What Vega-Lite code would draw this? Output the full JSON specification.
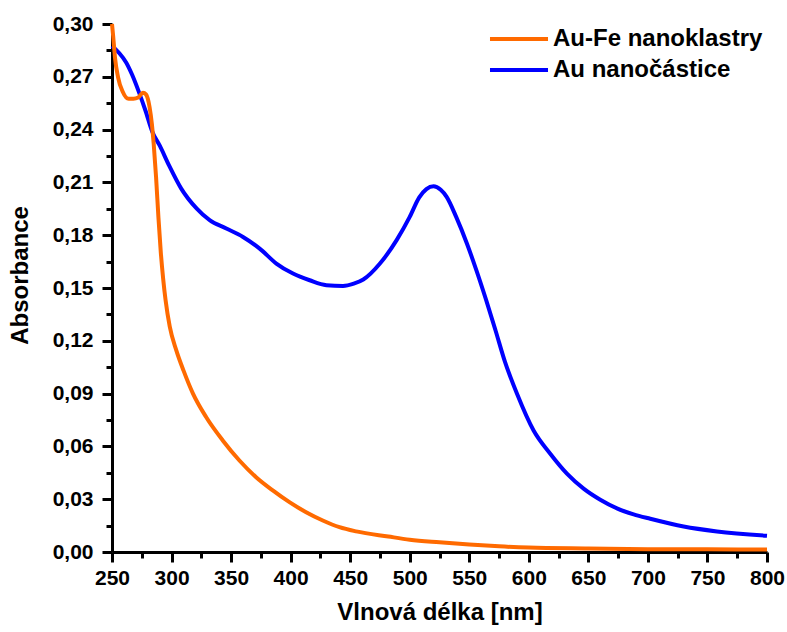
{
  "$schema": "https://vega.github.io/schema/vega-lite/v6.json",
  "autosize": "none",
  "width": 655,
  "height": 528,
  "padding": {"left": 112, "top": 24, "right": 20, "bottom": 80},
  "background": "white",
  "config": {
    "view": {"stroke": null},
    "font": "Liberation Sans",
    "axis": {
      "grid": false,
      "ticks": true,
      "domainColor": "black",
      "domainWidth": 3,
      "tickColor": "black",
      "tickWidth": 3,
      "labelFont": "Liberation Sans",
      "labelFontWeight": "bold",
      "labelFontSize": 21,
      "labelColor": "black",
      "labelFlush": false,
      "labelOverlap": false,
      "titleFont": "Liberation Sans",
      "titleFontWeight": "bold",
      "titleFontSize": 24,
      "titleColor": "black"
    }
  },
  "data": {
    "values": [
      {"wl": 250, "A": 0.2875, "s": "Au nanočástice"},
      {"wl": 256, "A": 0.2835, "s": "Au nanočástice"},
      {"wl": 262, "A": 0.278, "s": "Au nanočástice"},
      {"wl": 267, "A": 0.271, "s": "Au nanočástice"},
      {"wl": 273, "A": 0.2606, "s": "Au nanočástice"},
      {"wl": 278, "A": 0.251, "s": "Au nanočástice"},
      {"wl": 284, "A": 0.2385, "s": "Au nanočástice"},
      {"wl": 290, "A": 0.231, "s": "Au nanočástice"},
      {"wl": 298, "A": 0.2195, "s": "Au nanočástice"},
      {"wl": 308, "A": 0.2066, "s": "Au nanočástice"},
      {"wl": 321, "A": 0.1952, "s": "Au nanočástice"},
      {"wl": 332, "A": 0.1885, "s": "Au nanočástice"},
      {"wl": 346, "A": 0.1838, "s": "Au nanočástice"},
      {"wl": 360, "A": 0.179, "s": "Au nanočástice"},
      {"wl": 374, "A": 0.1724, "s": "Au nanočástice"},
      {"wl": 388, "A": 0.1639, "s": "Au nanočástice"},
      {"wl": 402, "A": 0.1582, "s": "Au nanočástice"},
      {"wl": 416, "A": 0.1544, "s": "Au nanočástice"},
      {"wl": 430, "A": 0.1516, "s": "Au nanočástice"},
      {"wl": 444, "A": 0.1512, "s": "Au nanočástice"},
      {"wl": 453, "A": 0.1525, "s": "Au nanočástice"},
      {"wl": 461, "A": 0.1548, "s": "Au nanočástice"},
      {"wl": 475, "A": 0.1639, "s": "Au nanočástice"},
      {"wl": 489, "A": 0.1772, "s": "Au nanočástice"},
      {"wl": 500, "A": 0.1904, "s": "Au nanočástice"},
      {"wl": 508, "A": 0.2015, "s": "Au nanočástice"},
      {"wl": 514, "A": 0.2062, "s": "Au nanočástice"},
      {"wl": 520, "A": 0.2078, "s": "Au nanočástice"},
      {"wl": 526, "A": 0.2058, "s": "Au nanočástice"},
      {"wl": 531, "A": 0.2018, "s": "Au nanočástice"},
      {"wl": 539, "A": 0.1904, "s": "Au nanočástice"},
      {"wl": 548, "A": 0.1753, "s": "Au nanočástice"},
      {"wl": 556, "A": 0.16, "s": "Au nanočástice"},
      {"wl": 564, "A": 0.1435, "s": "Au nanočástice"},
      {"wl": 572, "A": 0.126, "s": "Au nanočástice"},
      {"wl": 580, "A": 0.108, "s": "Au nanočástice"},
      {"wl": 590, "A": 0.09, "s": "Au nanočástice"},
      {"wl": 604, "A": 0.069, "s": "Au nanočástice"},
      {"wl": 618, "A": 0.0558, "s": "Au nanočástice"},
      {"wl": 632, "A": 0.0445, "s": "Au nanočástice"},
      {"wl": 646, "A": 0.036, "s": "Au nanočástice"},
      {"wl": 660, "A": 0.0297, "s": "Au nanočástice"},
      {"wl": 674, "A": 0.0248, "s": "Au nanočástice"},
      {"wl": 688, "A": 0.0214, "s": "Au nanočástice"},
      {"wl": 702, "A": 0.0189, "s": "Au nanočástice"},
      {"wl": 730, "A": 0.0145, "s": "Au nanočástice"},
      {"wl": 758, "A": 0.0117, "s": "Au nanočástice"},
      {"wl": 800, "A": 0.0092, "s": "Au nanočástice"},
      {"wl": 250, "A": 0.3, "s": "Au-Fe nanoklastry"},
      {"wl": 251, "A": 0.293, "s": "Au-Fe nanoklastry"},
      {"wl": 252.5, "A": 0.281, "s": "Au-Fe nanoklastry"},
      {"wl": 255, "A": 0.27, "s": "Au-Fe nanoklastry"},
      {"wl": 259, "A": 0.2615, "s": "Au-Fe nanoklastry"},
      {"wl": 264, "A": 0.2575, "s": "Au-Fe nanoklastry"},
      {"wl": 268, "A": 0.2575, "s": "Au-Fe nanoklastry"},
      {"wl": 272, "A": 0.2582, "s": "Au-Fe nanoklastry"},
      {"wl": 276, "A": 0.261, "s": "Au-Fe nanoklastry"},
      {"wl": 278.5, "A": 0.26, "s": "Au-Fe nanoklastry"},
      {"wl": 281.5, "A": 0.253, "s": "Au-Fe nanoklastry"},
      {"wl": 283.5, "A": 0.243, "s": "Au-Fe nanoklastry"},
      {"wl": 285, "A": 0.232, "s": "Au-Fe nanoklastry"},
      {"wl": 287, "A": 0.213, "s": "Au-Fe nanoklastry"},
      {"wl": 289, "A": 0.19, "s": "Au-Fe nanoklastry"},
      {"wl": 291, "A": 0.17, "s": "Au-Fe nanoklastry"},
      {"wl": 293, "A": 0.155, "s": "Au-Fe nanoklastry"},
      {"wl": 295, "A": 0.143, "s": "Au-Fe nanoklastry"},
      {"wl": 298.5, "A": 0.128, "s": "Au-Fe nanoklastry"},
      {"wl": 304, "A": 0.1146, "s": "Au-Fe nanoklastry"},
      {"wl": 310, "A": 0.1032, "s": "Au-Fe nanoklastry"},
      {"wl": 318, "A": 0.09, "s": "Au-Fe nanoklastry"},
      {"wl": 329, "A": 0.0767, "s": "Au-Fe nanoklastry"},
      {"wl": 343, "A": 0.0634, "s": "Au-Fe nanoklastry"},
      {"wl": 357, "A": 0.052, "s": "Au-Fe nanoklastry"},
      {"wl": 371, "A": 0.0425, "s": "Au-Fe nanoklastry"},
      {"wl": 385, "A": 0.035, "s": "Au-Fe nanoklastry"},
      {"wl": 399, "A": 0.0283, "s": "Au-Fe nanoklastry"},
      {"wl": 413, "A": 0.0226, "s": "Au-Fe nanoklastry"},
      {"wl": 427, "A": 0.0179, "s": "Au-Fe nanoklastry"},
      {"wl": 441, "A": 0.0141, "s": "Au-Fe nanoklastry"},
      {"wl": 455, "A": 0.0117, "s": "Au-Fe nanoklastry"},
      {"wl": 482, "A": 0.0088, "s": "Au-Fe nanoklastry"},
      {"wl": 500, "A": 0.007, "s": "Au-Fe nanoklastry"},
      {"wl": 525, "A": 0.0055, "s": "Au-Fe nanoklastry"},
      {"wl": 550, "A": 0.0042, "s": "Au-Fe nanoklastry"},
      {"wl": 575, "A": 0.0032, "s": "Au-Fe nanoklastry"},
      {"wl": 600, "A": 0.0025, "s": "Au-Fe nanoklastry"},
      {"wl": 650, "A": 0.002, "s": "Au-Fe nanoklastry"},
      {"wl": 700, "A": 0.0016, "s": "Au-Fe nanoklastry"},
      {"wl": 750, "A": 0.0015, "s": "Au-Fe nanoklastry"},
      {"wl": 800, "A": 0.0014, "s": "Au-Fe nanoklastry"}
    ]
  },
  "layer": [
    {
      "mark": {"type": "line", "strokeOpacity": 0},
      "encoding": {
        "x": {
          "field": "wl",
          "type": "quantitative",
          "scale": {"domain": [250, 800], "nice": false, "zero": false},
          "axis": {
            "orient": "bottom",
            "title": null,
            "values": [275, 325, 375, 425, 475, 525, 575, 625, 675, 725, 775],
            "labels": false,
            "domain": false,
            "tickSize": 6
          }
        },
        "y": {
          "field": "A",
          "type": "quantitative",
          "scale": {"domain": [0, 0.3], "nice": false},
          "axis": {
            "orient": "left",
            "title": null,
            "values": [0.015, 0.045, 0.075, 0.105, 0.135, 0.165, 0.195, 0.225, 0.255, 0.285],
            "labels": false,
            "domain": false,
            "tickSize": 6
          }
        },
        "detail": {"field": "s", "type": "nominal"}
      }
    },
    {
      "mark": {"type": "line", "interpolate": "monotone", "strokeWidth": 4},
      "encoding": {
        "x": {
          "field": "wl",
          "type": "quantitative",
          "scale": {"domain": [250, 800], "nice": false, "zero": false},
          "axis": {
            "orient": "bottom",
            "title": "Vlnová délka [nm]",
            "values": [250, 300, 350, 400, 450, 500, 550, 600, 650, 700, 750, 800],
            "format": "d",
            "tickSize": 10,
            "labelPadding": 5,
            "titlePadding": 12
          }
        },
        "y": {
          "field": "A",
          "type": "quantitative",
          "scale": {"domain": [0, 0.3], "nice": false},
          "axis": {
            "orient": "left",
            "title": "Absorbance",
            "values": [0, 0.03, 0.06, 0.09, 0.12, 0.15, 0.18, 0.21, 0.24, 0.27, 0.3],
            "labelExpr": "replace(format(datum.value, '.2f'), '.', ',')",
            "tickSize": 10,
            "labelPadding": 9,
            "titlePadding": 20,
            "titleY": 251
          }
        },
        "color": {
          "field": "s",
          "type": "nominal",
          "scale": {"domain": ["Au-Fe nanoklastry", "Au nanočástice"], "range": ["#FF6A00", "#0000FF"]},
          "legend": {
            "title": null,
            "orient": "none",
            "legendX": 395,
            "legendY": 3,
            "symbolType": "M-3,0H3",
            "symbolSize": 374,
            "symbolStrokeWidth": 4,
            "labelFont": "Liberation Sans",
            "labelFontWeight": "bold",
            "labelFontSize": 24,
            "labelColor": "black",
            "labelLimit": 400,
            "labelOffset": 22,
            "rowPadding": 7
          }
        }
      }
    }
  ],
  "resolve": {"axis": {"x": "independent", "y": "independent"}}
}
